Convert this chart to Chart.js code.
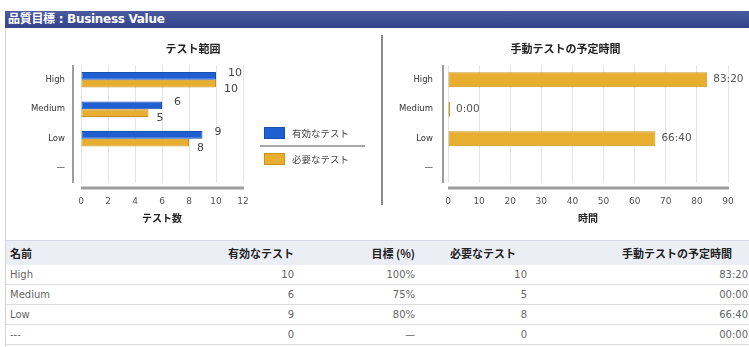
<!DOCTYPE html>
<html>
<head>
<meta charset="utf-8">
<script src="https://cdn.jsdelivr.net/npm/chart.js@4"></script>
<style>
  html, body { margin: 0; padding: 0; }
  body {
    width: 749px; height: 347px; overflow: hidden; background: #fff; position: relative;
    font-family: "DejaVu Sans", "Noto Sans CJK JP", sans-serif;
  }
  .bar {
    position: absolute; left: 5px; top: 11px; width: 744px; height: 17px;
    background: linear-gradient(#4b5ba0, #33428a);
    color: #fff; font: bold 12px "DejaVu Sans", "Noto Sans CJK JP", sans-serif;
    line-height: 17px; padding-left: 3px; box-sizing: border-box; letter-spacing: -0.3px;
  }
  .frame { position: absolute; left: 5px; top: 28px; width: 1px; height: 319px; background: #d4d4d4; }
  .divider { position: absolute; left: 381px; top: 35px; width: 2px; height: 170px; background: #8c8c8c; }
  .chartbox { position: absolute; top: 28px; height: 200px; }
  .chartbox canvas { display: block; }
  #table { position: absolute; left: 6px; top: 240px; width: 743px; height: 107px; }
  .head { position: absolute; left: 0; top: 0; width: 743px; height: 25px; background: #eceef6; border-top: 1px solid #d6d9e6; box-sizing: border-box; }
  .row { position: absolute; left: 0; width: 743px; height: 20px; border-bottom: 1px solid #dcdcdc; box-sizing: border-box; }
  .cell { position: absolute; white-space: nowrap; }
  .hcell { font: bold 11px "Noto Sans CJK JP", sans-serif; color: #222; top: 4px; }
  .vcell { font: 10px "DejaVu Sans", sans-serif; color: #666; top: 4px; }
</style>
</head>
<body>
<div class="bar">品質目標 : Business Value</div>
<div class="frame"></div>
<div class="chartbox" style="left:0;width:382px;"><canvas id="coverage" width="382" height="200"></canvas></div>
<div class="divider"></div>
<div class="chartbox" style="left:382px;width:367px;"><canvas id="manual" width="367" height="200"></canvas></div>
<div id="table"></div>

<script>
// Requirement priorities and their test figures
const categories = ['High', 'Medium', 'Low', '—'];
const rowNames = ['High', 'Medium', 'Low', '---'];
const hasRecords = [true, true, true, false];
const effectiveTests = [10, 6, 9, 0];
const requiredTests = [10, 5, 8, 0];
const goalPercent = ['100%', '75%', '80%', '—'];
const manualMinutes = [5000, 0, 4000, 0];

const seriesNames = ['有効なテスト', '必要なテスト'];
const tableHeaders = ['名前', '有効なテスト', '目標 (%)', '必要なテスト', '手動テストの予定時間'];

const BLUE = '#1f5fd1', BLUE_EDGE = '#1a4fae';
const GOLD = '#e8ae2f', GOLD_EDGE = '#c8921e';
const LATIN = '"DejaVu Sans", "Noto Sans CJK JP", sans-serif';
const CJK = '"Noto Sans CJK JP", sans-serif';

const two = n => String(n).padStart(2, '0');
const chartTime = min => Math.floor(min / 60) + ':' + two(min % 60);
const tableTime = min => two(Math.floor(min / 60)) + ':' + two(min % 60);

// Panel heading, centred on the whole canvas (plot plus legend)
const panelTitle = {
  id: 'panelTitle',
  afterDraw(chart, args, o) {
    const ctx = chart.ctx;
    ctx.save();
    ctx.font = 'bold 11px ' + CJK;
    ctx.fillStyle = '#222';
    ctx.textAlign = 'center';
    ctx.textBaseline = 'middle';
    ctx.fillText(o.text, chart.width / 2 + (o.dx || 0), o.y);
    ctx.restore();
  }
};

// Value text next to each bar end
const valueLabels = {
  id: 'valueLabels',
  afterDatasetsDraw(chart, args, o) {
    const ctx = chart.ctx;
    ctx.save();
    ctx.font = o.font;
    ctx.fillStyle = o.color;
    ctx.textBaseline = 'middle';
    ctx.textAlign = 'left';
    chart.data.datasets.forEach((ds, di) => {
      const meta = chart.getDatasetMeta(di);
      const off = o.offsets[di];
      meta.data.forEach((el, i) => {
        const v = ds.data[i];
        if (v === null || v === undefined) return;
        ctx.fillText(o.format(v, i), el.x + off.dx, el.y + off.dy);
      });
    });
    ctx.restore();
  }
};

// Detached axis rules: vertical rule left of the categories, horizontal rule under the plot
const axisLines = {
  id: 'axisLines',
  beforeDatasetsDraw(chart, args, o) {
    const { ctx, chartArea: a } = chart;
    ctx.save();
    ctx.strokeStyle = '#9d9d9d';
    ctx.lineWidth = 2;
    ctx.beginPath();
    ctx.moveTo(a.left - o.yGap, a.top);
    ctx.lineTo(a.left - o.yGap, a.bottom);
    ctx.stroke();
    ctx.lineWidth = 3;
    ctx.beginPath();
    ctx.moveTo(a.left, a.bottom + o.xGap);
    ctx.lineTo(a.right + 1, a.bottom + o.xGap);
    ctx.stroke();
    ctx.restore();
  }
};

// Legend beside the coverage plot, with a rule between the two entries
const sideLegend = {
  id: 'sideLegend',
  afterDraw(chart, args, o) {
    const { ctx, chartArea: a } = chart;
    const x0 = a.right + o.gap;
    ctx.save();
    chart.data.datasets.forEach((ds, i) => {
      const y = o.top + i * o.step;
      ctx.fillStyle = ds.backgroundColor;
      ctx.fillRect(x0, y, 21, 12);
      ctx.strokeStyle = ds.borderColor;
      ctx.lineWidth = 1;
      ctx.strokeRect(x0 + 0.5, y + 0.5, 20, 11);
      ctx.fillStyle = '#444';
      ctx.font = '9.5px ' + CJK;
      ctx.textBaseline = 'middle';
      ctx.fillText(ds.label, x0 + 28, y + 6);
    });
    ctx.strokeStyle = '#8a8a8a';
    ctx.lineWidth = 1.5;
    ctx.beginPath();
    ctx.moveTo(x0 - 4, o.top + 19);
    ctx.lineTo(x0 + 101, o.top + 19);
    ctx.stroke();
    ctx.restore();
  }
};

function xScale(max, step, title, height) {
  return {
    type: 'linear', min: 0, max: max,
    ticks: { stepSize: step, padding: 13, color: '#555', font: { size: 9, family: LATIN } },
    grid: { color: '#e4e4e4', drawTicks: false },
    border: { display: false },
    title: { display: true, text: title, color: '#222', font: { size: 10, weight: 'bold', family: CJK }, padding: { top: 0, bottom: 4 } },
    afterFit: s => { s.height = height; }
  };
}
function yScale(width, pad) {
  return {
    type: 'category',
    ticks: { padding: pad, color: '#333', font: { size: 8.5, family: LATIN } },
    grid: { display: false, drawTicks: false },
    border: { display: false },
    afterFit: s => { s.width = width; }
  };
}

new Chart(document.getElementById('coverage'), {
  type: 'bar',
  data: {
    labels: categories,
    datasets: [
      { label: seriesNames[0], data: effectiveTests.map((v, i) => hasRecords[i] ? v : null),
        backgroundColor: BLUE, borderColor: BLUE_EDGE, borderWidth: 1, borderSkipped: false },
      { label: seriesNames[1], data: requiredTests.map((v, i) => hasRecords[i] ? v : null),
        backgroundColor: GOLD, borderColor: GOLD_EDGE, borderWidth: 1, borderSkipped: false }
    ]
  },
  options: {
    indexAxis: 'y', responsive: false, animation: false,
    categoryPercentage: 0.53, barPercentage: 1,
    layout: { padding: { left: 5, right: 139, top: 37, bottom: 0 } },
    scales: { x: xScale(12, 2, 'テスト数', 45), y: yScale(76, 16) },
    plugins: {
      legend: { display: false }, tooltip: { enabled: false }, title: { display: false },
      panelTitle: { text: 'テスト範囲', y: 21, dx: 2 },
      axisLines: { yGap: 8, xGap: 5 },
      sideLegend: { gap: 21, top: 99, step: 26 },
      valueLabels: {
        font: '11px ' + LATIN, color: '#444',
        offsets: [{ dx: 12, dy: -3 }, { dx: 8, dy: 5 }],
        format: v => String(v)
      }
    }
  },
  plugins: [axisLines, valueLabels, sideLegend, panelTitle]
});

new Chart(document.getElementById('manual'), {
  type: 'bar',
  data: {
    labels: categories,
    datasets: [
      { label: '手動テストの予定時間', data: manualMinutes.map((m, i) => hasRecords[i] ? m / 60 : null),
        backgroundColor: GOLD, borderColor: GOLD_EDGE, borderWidth: 1, borderSkipped: false, minBarLength: 2 }
    ]
  },
  options: {
    indexAxis: 'y', responsive: false, animation: false,
    categoryPercentage: 0.51, barPercentage: 1,
    layout: { padding: { left: 0, right: 21, top: 37, bottom: 0 } },
    scales: { x: xScale(90, 10, '時間', 45), y: yScale(66, 15) },
    plugins: {
      legend: { display: false }, tooltip: { enabled: false }, title: { display: false },
      panelTitle: { text: '手動テストの予定時間', y: 21, dx: 0 },
      axisLines: { yGap: 5, xGap: 5 },
      valueLabels: {
        font: '10.5px ' + LATIN, color: '#555',
        offsets: [{ dx: 6, dy: 0 }],
        format: (v, i) => chartTime(manualMinutes[i])
      }
    }
  },
  plugins: [axisLines, valueLabels, panelTitle]
});

// Summary table under the charts
const table = document.getElementById('table');
function cell(parent, text, cls, x, align) {
  const d = document.createElement('div');
  d.className = 'cell ' + cls;
  d.textContent = text;
  if (align === 'right') d.style.right = (743 - x) + 'px';
  else d.style.left = x + 'px';
  parent.appendChild(d);
}
const head = document.createElement('div');
head.className = 'head';
table.appendChild(head);
const headPos = [[4, 'left'], [288, 'right'], [409, 'right'], [444, 'left'], [616, 'left']];
tableHeaders.forEach((h, c) => cell(head, h, 'hcell', headPos[c][0], headPos[c][1]));

const valPos = [[4, 'left'], [288, 'right'], [409, 'right'], [521, 'right'], [742, 'right']];
rowNames.forEach((name, r) => {
  const row = document.createElement('div');
  row.className = 'row';
  row.style.top = (25 + r * 20) + 'px';
  const vals = [name, String(effectiveTests[r]), goalPercent[r], String(requiredTests[r]), tableTime(manualMinutes[r])];
  vals.forEach((v, c) => cell(row, v, 'vcell', valPos[c][0], valPos[c][1]));
  table.appendChild(row);
});
</script>
</body>
</html>
